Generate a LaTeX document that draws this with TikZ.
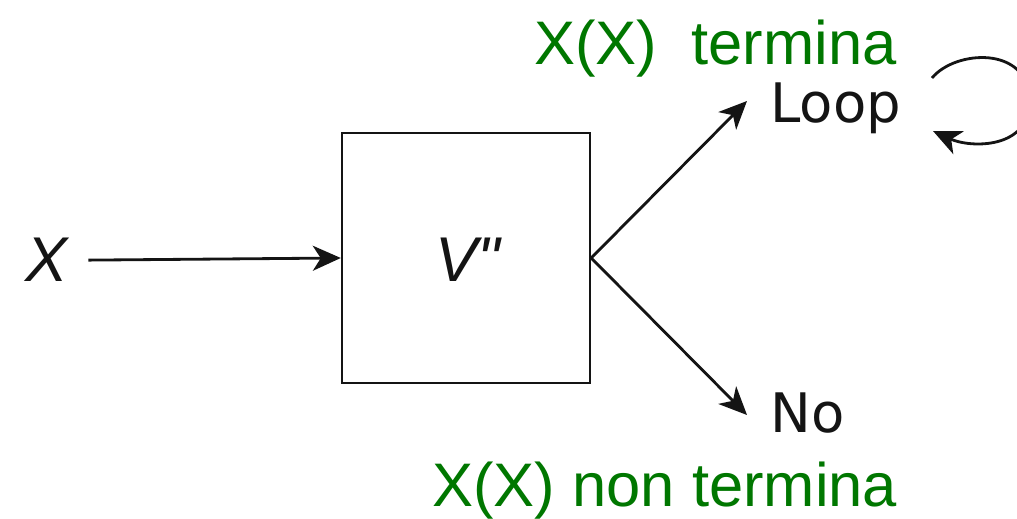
\documentclass[tikz,border=0pt]{standalone}
\usepackage{fontspec}
\setmainfont{Liberation Sans}
\newfontfamily\djv{DejaVu Sans}
\newfontfamily\itf{Liberation Sans Italic}
\usetikzlibrary{arrows.meta}
\definecolor{tgreen}{RGB}{0,119,0}
\definecolor{ink}{RGB}{20,20,20}
\tikzset{
  arr/.style={draw=ink, line width=1.6pt, -{Stealth[length=5.6mm,width=5mm,inset=1.6mm]}},
  blockbox/.style={draw=ink, line width=1.4pt, minimum width=4.96cm, minimum height=5cm, inner sep=0pt},
  glabel/.style={text=tgreen, font=\fontsize{35}{40}\selectfont, anchor=base west, inner sep=0pt},
  olabel/.style={text=ink, font=\djv\fontsize{31}{36}\selectfont, anchor=base west, inner sep=0pt},
  ilabel/.style={text=ink, font=\itf\fontsize{36}{40}\selectfont, anchor=base},
}
\begin{document}
\begin{tikzpicture}[x=0.02cm,y=-0.02cm]
\useasboundingbox (0,0) rectangle (1017,519);
\node[blockbox] (box) at (466,258) {};
\node[ilabel, inner sep=0pt] (vpp) at (468,282) {V"};
\node[ilabel] (xlab) at (47,282) {X};
\node[olabel] (loop) at (770,123) {Loop};
\node[olabel] (no) at (770,433) {No};
\node[glabel] (gtop) at (534,65) {X(X)\ \ termina};
\node[glabel] (gbot) at (432,507) {X(X) non termina};
\coordinate (loopin) at (747,101);
\coordinate (noin) at (747,415);
\coordinate (sla) at (932,78);
\coordinate (slb) at (933,131);
\draw[arr, shorten <=8pt] (xlab.east) -- (box.west);
\draw[arr] (box.east) -- (loopin);
\draw[arr] (box.east) -- (noin);
\draw[arr] (sla) .. controls (955,50) and (1028,45) .. (1030,100)
  .. controls (1030,150) and (970,148) .. (slb);
\end{tikzpicture}
\end{document}
